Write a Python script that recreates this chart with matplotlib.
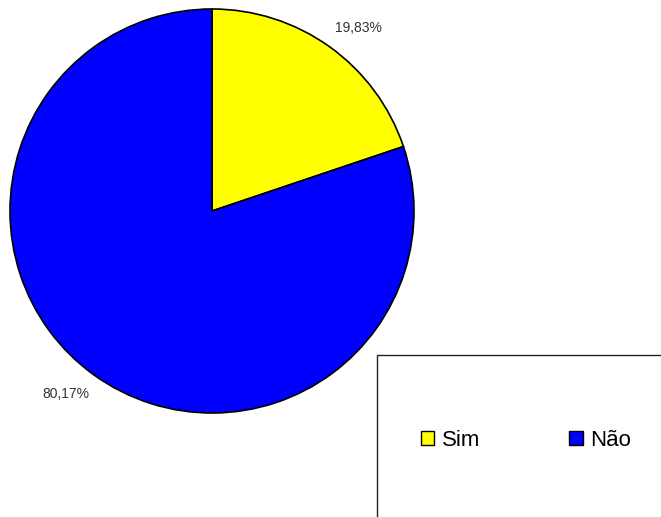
import numpy as np
import matplotlib.pyplot as plt
from matplotlib.patches import Rectangle

plt.rcParams['font.family'] = ['Liberation Sans', 'DejaVu Sans']

# dados
categorias = ['Sim', 'Não']
valores = [19.83, 80.17]
cores = ['#FFFF00', '#0000FF']

W, H = 661, 517
centro = (212, H - 211)
raio = 202

fig = plt.figure(figsize=(W / 100, H / 100), dpi=100)
ax = fig.add_axes([0, 0, 1, 1])

wedges, _, autotexts = ax.pie(
    valores,
    colors=cores,
    startangle=90,
    counterclock=False,
    center=centro,
    radius=raio,
    autopct=lambda p: f"{p:.2f}%".replace('.', ','),
    pctdistance=1.16,
    wedgeprops=dict(edgecolor='black', linewidth=1.2),
    textprops=dict(fontsize=10, color='#333333'),
)

# rótulos um pouco girados no sentido horário
for w, t in zip(wedges, autotexts):
    ang = np.deg2rad((w.theta1 + w.theta2) / 2 - 3)
    t.set_position((centro[0] + 1.16 * raio * np.cos(ang),
                    centro[1] + 1.16 * raio * np.sin(ang)))

ax.set_xlim(0, W)
ax.set_ylim(0, H)
ax.set_aspect('equal')
ax.axis('off')

# caixa da legenda
caixa = Rectangle((377 / W, -0.1), 0.5, 1 - 355 / H + 0.1,
                  transform=fig.transFigure, facecolor='white',
                  edgecolor='#222222', linewidth=1.0)
fig.patches.append(caixa)

leg = fig.legend(
    wedges, categorias,
    loc='center', bbox_to_anchor=(526 / W, 1 - 440 / H),
    ncol=2, frameon=False, fontsize=16,
    handlelength=0.6, handleheight=0.6, handletextpad=0.35,
    columnspacing=4.0,
)
for h in leg.legend_handles:
    h.set_linewidth(1.0)

fig.savefig('out.png', dpi=100)
